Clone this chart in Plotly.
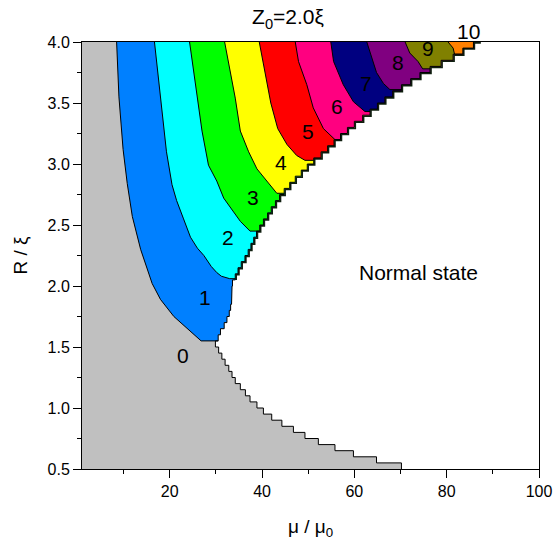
import plotly.graph_objects as go

# ---------------- data ----------------
# Normal-state edge: for each R row (lower edge, step 0.05) the mu where the
# superconducting domain ends.
edge_R_lo = [0.50, 0.55, 0.60, 0.65, 0.70, 0.75, 0.80, 0.85, 0.90, 0.95,
             1.00, 1.05, 1.10, 1.15, 1.20, 1.25, 1.30, 1.35, 1.40, 1.45,
             1.50, 1.55, 1.60, 1.65, 1.70, 1.75, 1.80, 1.85, 1.90, 1.95,
             2.00, 2.05, 2.10, 2.15, 2.20, 2.25, 2.30, 2.35, 2.40, 2.45,
             2.50, 2.55, 2.60, 2.65, 2.70, 2.75, 2.80, 2.85, 2.90, 2.95,
             3.00, 3.05, 3.10, 3.15, 3.20, 3.25, 3.30, 3.35, 3.40, 3.45,
             3.50, 3.55, 3.60, 3.65, 3.70, 3.75, 3.80, 3.85, 3.90, 3.95]
edge_mu = [70.2, 64.8, 59.8, 55.8, 52.2, 49.3, 46.8, 44.3, 42.1, 40.3,
           38.9, 37.4, 36.4, 35.3, 34.2, 33.5, 32.8, 32.0, 31.3, 30.6,
           29.9, 30.5, 31.0, 31.8, 32.4, 32.9, 33.2, 33.4, 33.5, 33.5,
           33.6, 34.2, 34.8, 35.5, 36.3, 37.0, 37.6, 38.2, 38.8, 39.5,
           40.3, 41.2, 42.0, 42.9, 43.8, 44.8, 46.0, 47.2, 48.5, 49.8,
           51.2, 52.8, 54.2, 55.6, 57.0, 58.5, 60.0, 61.8, 63.4, 65.0,
           66.6, 68.3, 70.2, 72.2, 74.2, 76.4, 78.8, 81.4, 83.5, 85.8]
ROW = 0.05
R_MIN, R_MAX = 0.5, 4.0
MU_MIN = 1.0

# Boundaries between vortex states n-1 | n, from the top (R=4) downward
b1_mu = [8.5, 9.0, 9.9, 10.8, 11.9, 13.7, 16.2, 18.0, 20.9, 24.1, 26.8]
b1_R = [4.0, 3.55, 3.12, 2.84, 2.57, 2.30, 2.02, 1.89, 1.75, 1.64, 1.55]
b2_mu = [16.7, 17.4, 18.0, 18.7, 19.3, 20.5, 21.5, 23.0, 24.5, 26.0, 27.4, 29.0, 30.2, 31.2, 33.0]
b2_R = [4.0, 3.75, 3.54, 3.30, 3.10, 2.83, 2.70, 2.55, 2.40, 2.31, 2.25, 2.16, 2.11, 2.08, 2.06]
b3_mu = [24.3, 26.1, 27.0, 28.4, 30.2, 31.7, 33.8, 35.3, 37.4]
b3_R = [4.0, 3.54, 3.27, 2.99, 2.86, 2.72, 2.61, 2.53, 2.45]
b4_mu = [31.9, 34.2, 35.3, 37.1, 38.9, 41.1, 43.2]
b4_R = [4.0, 3.54, 3.27, 3.10, 2.96, 2.86, 2.76]
b5_mu = [39.4, 40.6, 41.9, 43.4, 45.4, 47.5, 49.3]
b5_R = [4.0, 3.75, 3.50, 3.29, 3.16, 3.07, 3.03]
b6_mu = [47.2, 47.9, 49.7, 51.1, 53.3, 55.8]
b6_R = [4.0, 3.84, 3.65, 3.46, 3.29, 3.20]
b7_mu = [54.9, 55.5, 57.6, 59.8, 62.3]
b7_R = [4.0, 3.84, 3.65, 3.51, 3.43]
b8_mu = [62.7, 63.8, 64.8, 66.3, 67.7]
b8_R = [4.0, 3.86, 3.75, 3.66, 3.61]
b9_mu = [71.0, 72.0, 73.8, 74.6, 74.8]
b9_R = [4.0, 3.91, 3.84, 3.79, 3.78]
b10_mu = [80.3, 81.4, 81.7]
b10_R = [4.0, 3.95, 3.90]

state_colors = ["#C0C0C0", "#0080FF", "#00FFFF", "#00FF00", "#FFFF00", "#FF0000",
                "#FF0080", "#000080", "#800080", "#808000", "#FF8000"]

label_text = ["0", "1", "2", "3", "4", "5", "6", "7", "8", "9"]
label_mu = [22.8, 27.7, 32.7, 38.1, 44.2, 50.0, 56.2, 62.5, 69.5, 75.9]
label_R = [1.43, 1.905, 2.40, 2.725, 3.01, 3.265, 3.47, 3.66, 3.83, 3.945]
top_label_text = "10"
top_label_mu = 84.7

# ---------------- helpers ----------------
def row_index(R):
    i = int(round((R - R_MIN) / ROW - 0.5))
    return max(0, min(len(edge_mu) - 1, i))

def stairs_up(R_start):
    """Points along the normal-state edge from R_start up to R_MAX."""
    i = row_index(R_start + 1e-6)
    xs, ys = [edge_mu[i]], [R_start]
    while True:
        top = edge_R_lo[i] + ROW
        xs.append(edge_mu[i]); ys.append(min(top, R_MAX))
        if i + 1 >= len(edge_mu):
            break
        i += 1
        xs.append(edge_mu[i]); ys.append(edge_R_lo[i])
    return xs, ys

boundaries = [(b1_mu, b1_R), (b2_mu, b2_R), (b3_mu, b3_R), (b4_mu, b4_R),
              (b5_mu, b5_R), (b6_mu, b6_R), (b7_mu, b7_R), (b8_mu, b8_R),
              (b9_mu, b9_R), (b10_mu, b10_R)]

fig = go.Figure()

# dark shadow along the upper part of the normal-state edge (drawn first)
sx, sy = stairs_up(2.05)
fig.add_trace(go.Scatter(x=sx + [sx[-1] + 1.6], y=sy + [R_MAX], mode="lines",
                         line=dict(color="#102010", width=3.5),
                         hoverinfo="skip", showlegend=False))

# state 0 (whole superconducting domain)
ex, ey = stairs_up(R_MIN)
fig.add_trace(go.Scatter(x=[MU_MIN] + ex + [MU_MIN], y=[R_MIN] + ey + [R_MAX],
                         fill="toself", fillcolor=state_colors[0], mode="lines",
                         line=dict(width=0), hoverinfo="skip", showlegend=False))

# states 1..10 layered on top
for k, (bm, bR) in enumerate(boundaries, start=1):
    ux, uy = stairs_up(bR[-1])
    fig.add_trace(go.Scatter(x=list(bm) + ux, y=list(bR) + uy, fill="toself",
                             fillcolor=state_colors[k], mode="lines",
                             line=dict(width=0), hoverinfo="skip", showlegend=False))

# boundary lines
for bm, bR in boundaries:
    i = row_index(bR[-1] + 1e-6)
    fig.add_trace(go.Scatter(x=list(bm) + [edge_mu[i]], y=list(bR) + [bR[-1]],
                             mode="lines", line=dict(color="black", width=1),
                             hoverinfo="skip", showlegend=False))
fig.add_trace(go.Scatter(x=ex, y=ey, mode="lines", line=dict(color="black", width=1),
                         hoverinfo="skip", showlegend=False))

# labels
LABEL_SIZE = 21
for t, xm, yr in zip(label_text, label_mu, label_R):
    fig.add_annotation(x=xm, y=yr, text=t, showarrow=False,
                       font=dict(size=LABEL_SIZE, color="black"))
fig.add_annotation(x=top_label_mu, y=1, yref="y domain", yshift=11, yanchor="middle",
                   text=top_label_text, showarrow=False,
                   font=dict(size=LABEL_SIZE, color="black"))
fig.add_annotation(x=73.8, y=2.107, text="Normal state", showarrow=False,
                   font=dict(size=LABEL_SIZE, color="black"))

axis_common = dict(showline=True, linecolor="black", linewidth=1, mirror=True,
                   ticks="outside", tickcolor="black", ticklen=8, showgrid=False,
                   zeroline=False, automargin=False,
                   tickfont=dict(size=16, color="black"))

fig.update_layout(
    width=554, height=541,
    margin=dict(l=82, r=15, t=42, b=72),
    paper_bgcolor="white", plot_bgcolor="white",
    font=dict(family="Liberation Sans, Arial, sans-serif", color="black"),
    title=dict(text="Z<sub>0</sub>=2.0ξ", x=288 / 554, xanchor="center",
               y=1 - 17 / 541, yanchor="middle", font=dict(size=21, color="black")),
    xaxis=dict(range=[MU_MIN, 100], tickvals=[20, 40, 60, 80, 100],
               minor=dict(ticks="outside", ticklen=4, tickvals=[10, 30, 50, 70, 90],
                          tickcolor="black"),
               title=dict(text="μ / μ<sub>0</sub>", font=dict(size=19), standoff=20),
               **axis_common),
    yaxis=dict(range=[R_MIN, R_MAX], tickvals=[0.5, 1.0, 1.5, 2.0, 2.5, 3.0, 3.5, 4.0],
               tickformat=".1f",
               minor=dict(ticks="outside", ticklen=4,
                          tickvals=[0.75, 1.25, 1.75, 2.25, 2.75, 3.25, 3.75],
                          tickcolor="black"),
               title=dict(text="R / ξ", font=dict(size=19), standoff=14),
               **axis_common),
)

fig.write_html("out.html", post_script="document.body.style.margin='0px';",
               config={"displayModeBar": False})
